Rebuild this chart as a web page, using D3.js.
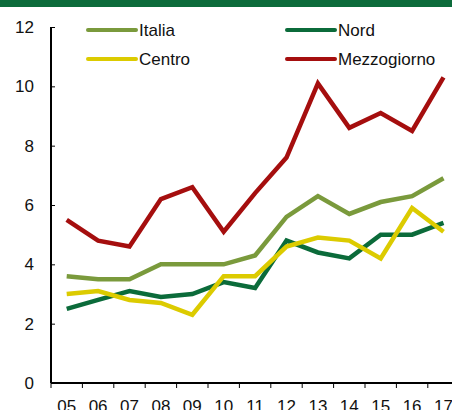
<!DOCTYPE html>
<html>
  <head>
    <meta charset="utf-8">
    <title>Italia per ripartizione</title>
    <script src="https://d3js.org/d3.v7.min.js" charset="utf-8"></script>
    <style>
      body { margin: 0; background: #fff; }
      svg { display: block; font-family: "Liberation Sans", Arial, sans-serif; }
    </style>
  </head>
  <body>
    <script>
      var width = 452;
      var height = 410;

      // data
      var years = ["05","06","07","08","09","10","11","12","13","14","15","16","17"];
      var italia = [3.6, 3.5, 3.5, 4.0, 4.0, 4.0, 4.3, 5.6, 6.3, 5.7, 6.1, 6.3, 6.9];
      var nord = [2.5, 2.8, 3.1, 2.9, 3.0, 3.4, 3.2, 4.8, 4.4, 4.2, 5.0, 5.0, 5.4];
      var centro = [3.0, 3.1, 2.8, 2.7, 2.3, 3.6, 3.6, 4.6, 4.9, 4.8, 4.2, 5.9, 5.1];
      var mezzogiorno = [5.5, 4.8, 4.6, 6.2, 6.6, 5.1, 6.4, 7.6, 10.1, 8.6, 9.1, 8.5, 10.3];
      var yTicks = [0, 2, 4, 6, 8, 10, 12];

      var series = [
        { name: "Italia", values: italia, color: "#7a9a3c" },
        { name: "Nord", values: nord, color: "#0b6b3a" },
        { name: "Centro", values: centro, color: "#dccb00" },
        { name: "Mezzogiorno", values: mezzogiorno, color: "#a50e0e" }
      ];

      var plotLeft = 51, plotBottom = 383, plotTop = 27;

      var x = d3.scaleBand().domain(years).range([plotLeft, plotLeft + 13 * 31.4]);
      var y = d3.scaleLinear().domain([0, 12]).range([plotBottom, plotTop]);

      var svg = d3.select("body")
          .append("svg")
          .attr("width", width)
          .attr("height", height);

      // green bar on top
      svg.append("rect")
        .attr("x", 0).attr("y", 0)
        .attr("width", width).attr("height", 7)
        .attr("fill", "#0c6b3b");

      // y axis
      var yAxis = svg.append("g")
        .attr("transform", "translate(" + plotLeft + ",0)")
        .call(d3.axisRight(y).tickValues(yTicks).tickSize(4).tickFormat(d3.format("d")));
      yAxis.select(".domain").remove();
      yAxis.selectAll("line").attr("stroke", "#000").attr("stroke-width", 1);
      yAxis.selectAll("text")
        .attr("x", -17)
        .attr("text-anchor", "end")
        .attr("fill", "#111")
        .style("font-size", "17px");
      svg.append("line")
        .attr("x1", plotLeft).attr("x2", plotLeft)
        .attr("y1", plotTop).attr("y2", plotBottom)
        .attr("stroke", "#000").attr("stroke-width", 2);

      // x axis
      var xAxis = svg.append("g")
        .attr("transform", "translate(0," + plotBottom + ")");
      xAxis.append("line")
        .attr("x1", plotLeft).attr("x2", width)
        .attr("stroke", "#000").attr("stroke-width", 2);
      var tickPos = years.map(function(d) { return x(d); });
      xAxis.selectAll(".tk")
        .data(tickPos)
        .enter()
        .append("line")
        .attr("x1", function(d) { return d; })
        .attr("x2", function(d) { return d; })
        .attr("y1", 0).attr("y2", 5)
        .attr("stroke", "#000");
      xAxis.selectAll(".lbl")
        .data(years)
        .enter()
        .append("text")
        .attr("x", function(d) { return x(d) + x.bandwidth() / 2; })
        .attr("y", 29)
        .attr("text-anchor", "middle")
        .attr("fill", "#111")
        .style("font-size", "17px")
        .text(function(d) { return d; });

      // lines
      var line = d3.line()
        .x(function(d, i) { return x(years[i]) + x.bandwidth() / 2; })
        .y(function(d) { return y(d); });

      svg.selectAll(".serie")
        .data(series)
        .enter()
        .append("path")
        .attr("fill", "none")
        .attr("stroke", function(d) { return d.color; })
        .attr("stroke-width", 4.5)
        .attr("stroke-linejoin", "miter")
        .attr("d", function(d) { return line(d.values); });

      // legend
      var legPos = [[88, 30], [287, 30], [88, 59], [287, 59]];
      var leg = svg.selectAll(".leg")
        .data(series)
        .enter()
        .append("g")
        .attr("transform", function(d, i) { return "translate(" + legPos[i][0] + "," + legPos[i][1] + ")"; });
      leg.append("line")
        .attr("x1", 0).attr("x2", 48)
        .attr("stroke", function(d) { return d.color; })
        .attr("stroke-width", 4)
        .attr("stroke-linecap", "round");
      leg.append("text")
        .attr("x", 51)
        .attr("y", 6)
        .attr("fill", "#111")
        .style("font-size", "17px")
        .text(function(d) { return d.name; });
    </script>
  </body>
</html>
